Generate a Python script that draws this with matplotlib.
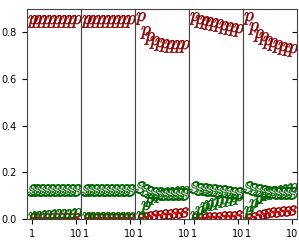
import matplotlib

matplotlib.use("Agg")
import matplotlib.pyplot as plt  # noqa: E402

x = list(range(1, 11))

# per-panel series: red p (top), green s (~0.12), green p (rising), red s (bottom)
red_p = [
    [0.85] * 10,
    [0.85] * 10,
    [0.86, 0.80, 0.775, 0.76, 0.75, 0.745, 0.74, 0.74, 0.74, 0.74],
    [0.86, 0.85, 0.845, 0.84, 0.835, 0.83, 0.825, 0.82, 0.815, 0.81],
    [0.86, 0.82, 0.79, 0.775, 0.76, 0.75, 0.74, 0.735, 0.73, 0.725],
]
green_s = [
    [0.125] * 10,
    [0.125] * 10,
    [0.135, 0.125, 0.115, 0.11, 0.11, 0.105, 0.105, 0.105, 0.105, 0.105],
    [0.135, 0.13, 0.128, 0.125, 0.122, 0.12, 0.118, 0.115, 0.112, 0.11],
    [0.135, 0.13, 0.125, 0.12, 0.115, 0.115, 0.11, 0.11, 0.11, 0.11],
]
green_p = [
    [0.005, 0.007, 0.009, 0.011, 0.013, 0.015, 0.016, 0.018, 0.019, 0.02],
    [0.003] * 10,
    [0.01, 0.05, 0.08, 0.09, 0.10, 0.105, 0.11, 0.11, 0.115, 0.115],
    [0.01, 0.03, 0.045, 0.055, 0.065, 0.07, 0.075, 0.08, 0.085, 0.09],
    [0.03, 0.06, 0.08, 0.095, 0.105, 0.11, 0.115, 0.12, 0.125, 0.13],
]
red_s = [
    [0.004] * 10,
    [0.004] * 10,
    [0.004, 0.008, 0.012, 0.015, 0.018, 0.02, 0.022, 0.025, 0.027, 0.03],
    [0.003, 0.005, 0.006, 0.008, 0.009, 0.01, 0.011, 0.012, 0.013, 0.015],
    [0.003, 0.01, 0.015, 0.02, 0.025, 0.028, 0.03, 0.033, 0.036, 0.04],
]

plt.rcParams["font.size"] = 7
plt.rcParams["mathtext.fontset"] = "cm"
fig, axes = plt.subplots(1, 5, sharey=True, figsize=(2.99, 2.46), dpi=100)
fig.subplots_adjust(left=0.089, right=0.993, bottom=0.11, top=0.963, wspace=0)

for i, ax in enumerate(axes):
    ax.plot(x, red_s[i], ls="none", marker="$s$", ms=7, mfc="red", mec="darkred", mew=0.5)
    ax.plot(x, green_p[i], ls="none", marker="$p$", ms=9, mfc="darkgreen", mec="darkgreen", mew=0.3)
    ax.plot(x, green_s[i], ls="none", marker="$s$", ms=8.5, mfc="white", mec="darkgreen", mew=0.7)
    ax.plot(x, red_p[i], ls="none", marker="$p$", ms=9, mfc="darkred", mec="darkred", mew=0.3)
    ax.set_xlim(0, 11)
    ax.set_ylim(0, 0.9)
    ax.set_xticks([1, 10])
    for s in ax.spines.values():
        s.set_color("#444444")
    if i > 0:
        ax.tick_params(axis="y", left=False)

axes[0].set_yticks([0.0, 0.2, 0.4, 0.6, 0.8])
axes[-1].tick_params(axis="y", right=True, direction="in")

fig.savefig("out.png", dpi=100)
